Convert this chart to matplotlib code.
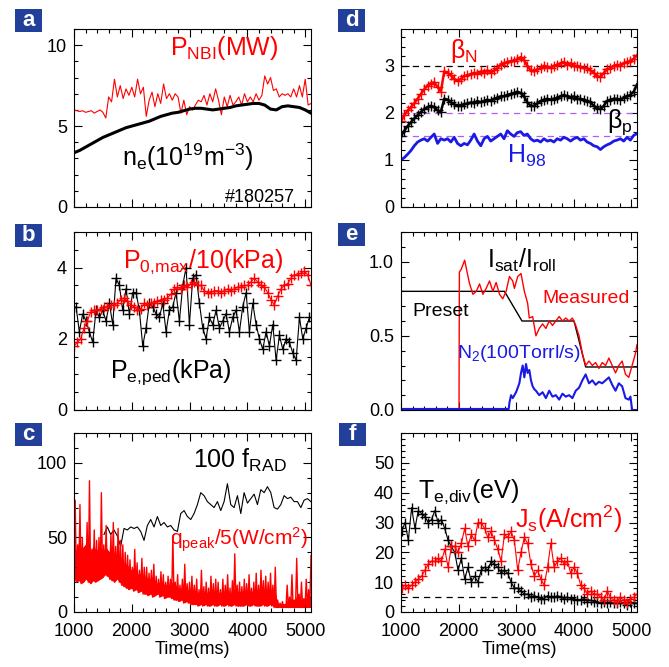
import numpy as np
import matplotlib
matplotlib.use('Agg')
import matplotlib.pyplot as plt
from matplotlib.patches import Rectangle
from matplotlib.ticker import MultipleLocator, FormatStrFormatter

plt.rcParams['font.family'] = ['Liberation Sans', 'DejaVu Sans']
plt.rcParams['mathtext.fontset'] = 'custom'
plt.rcParams['mathtext.rm'] = 'Liberation Sans'
plt.rcParams['mathtext.it'] = 'Liberation Sans'
plt.rcParams['mathtext.default'] = 'regular'

RED = '#ff0000'
BLUE = '#1a1ae6'
BOX = '#22409a'

# ---- panel a ----
ne = [3.35, 3.5, 3.7, 3.9, 4.1, 4.3, 4.45, 4.6, 4.75, 4.9, 5.0, 5.1, 5.2, 5.3,
      5.45, 5.6, 5.7, 5.8, 5.85, 5.95, 6.05, 6.1, 6.1, 6.05, 6.0, 6.05, 6.1,
      6.15, 6.25, 6.3, 6.35, 6.4, 6.4, 6.3, 6.05, 6.0, 6.2, 6.25, 6.2, 6.15,
      6.0, 5.8]
p_nbi = [6.0, 5.95, 5.9, 5.95, 5.85, 5.9, 5.95, 5.8, 5.9, 6.0, 5.85, 5.5, 6.8,
         6.5, 7.9, 6.8, 7.5, 6.7, 7.3, 6.9, 7.4, 6.8, 7.9, 7.0, 7.4, 5.6, 6.6,
         7.1, 6.2, 7.0, 6.4, 7.6, 6.7, 7.0, 6.6, 7.0, 6.8, 5.8, 6.6, 5.7, 6.2,
         6.0, 6.3, 6.6, 6.5, 6.9, 6.3, 7.0, 6.5, 7.3, 6.6, 5.7, 6.8, 6.2, 6.9,
         6.3, 6.5, 6.8, 6.3, 7.0, 6.5, 6.8, 6.5, 7.0, 6.6, 6.9, 8.1, 7.6, 8.0,
         7.2, 7.3, 6.8, 7.0, 6.9, 7.0, 6.8, 7.3, 6.8, 7.5, 6.8, 7.9, 6.3, 6.4]

# ---- panel b ----
p0max = [1.8, 1.9, 2.0, 2.3, 2.5, 2.75, 2.8, 2.8, 2.85, 2.9, 2.9, 2.95, 2.95,
         3.0, 3.1, 3.15, 3.05, 2.95, 2.9, 2.8, 2.85, 3.0, 2.95, 3.0, 3.0, 3.05,
         3.1, 3.1, 3.15, 3.25, 3.4, 3.45, 3.4, 3.5, 3.45, 3.55, 3.6, 3.5, 3.5,
         3.35, 3.3, 3.3, 3.35, 3.35, 3.3, 3.35, 3.4, 3.35, 3.4, 3.45, 3.45, 3.5,
         3.5, 3.6, 3.7, 3.6, 3.5, 3.45, 3.3, 3.1, 2.95, 3.2, 3.4, 3.5, 3.55,
         3.7, 3.8, 3.8, 3.85, 3.9, 3.8, 3.5]
pe_ped = [2.9, 2.2, 2.7, 2.5, 2.2, 1.9, 2.8, 2.6, 2.8, 2.5, 3.0, 2.4, 3.7, 3.5,
          2.8, 3.4, 2.7, 3.3, 3.3, 2.8, 1.8, 2.3, 3.0, 2.9, 2.7, 2.6, 3.0, 2.2,
          2.8, 2.9, 3.3, 2.5, 3.5, 4.0, 2.4, 3.7, 3.8, 3.0, 2.3, 2.0, 2.6, 2.4,
          2.8, 2.3, 2.5, 2.7, 2.2, 2.6, 2.8, 2.2, 2.9, 3.3, 2.2, 3.0, 2.4, 2.0,
          1.7, 2.2, 1.8, 2.4, 1.4, 2.1, 1.7, 2.0, 1.9, 1.6, 1.4, 2.6, 2.0, 2.3,
          2.6]

# ---- panel c ----
frad = [52, 57, 52, 55, 51, 44, 56, 55, 57, 56, 57, 54, 48, 58, 62, 57, 64, 58,
        60, 57, 58, 55, 54, 66, 68, 64, 62, 66, 72, 80, 78, 74, 72, 70, 74, 68,
        74, 86, 72, 70, 78, 66, 80, 73, 76, 79, 72, 82, 80, 84, 80, 70, 69, 72,
        78, 76, 77, 74, 74, 70, 75, 76, 74]
q_lo = [22, 20, 21, 19, 20, 22, 20, 19, 21, 20,
        21, 22, 23, 25, 24, 22, 21, 20, 22, 20,
        18, 17, 16, 15, 16, 14, 15, 13, 14, 12,
        12, 11, 12, 10, 11, 12, 10, 11, 9, 10,
        10, 9, 8, 8, 7, 8, 6, 7, 6, 5,
        5, 5, 4, 5, 4, 5, 4, 4, 5, 4,
        4, 5, 4, 4, 5, 4, 4, 5, 4, 4,
        4, 4, 5, 4, 4, 5, 4, 4, 4, 5,
        4, 4, 5, 4, 3, 3, 3, 3, 3, 3,
        3, 3, 3, 3, 3, 3, 3, 3, 3, 3]
q_core = [45, 40, 48, 42, 44, 46, 50, 40, 45, 42,
          42, 45, 40, 44, 42, 40, 45, 38, 40, 38,
          35, 33, 32, 30, 28, 30, 28, 25, 26, 24,
          24, 22, 23, 24, 20, 19, 21, 20, 18, 19,
          18, 20, 17, 18, 15, 16, 17, 15, 14, 15,
          13, 14, 12, 15, 13, 14, 12, 14, 13, 14,
          14, 12, 15, 13, 15, 12, 14, 16, 13, 14,
          13, 15, 14, 16, 13, 14, 16, 13, 15, 14,
          15, 13, 16, 12, 14, 6, 5, 6, 5, 8,
          7, 10, 6, 12, 8, 9, 7, 10, 8, 12]
q_hi = [75, 45, 72, 50, 40, 60, 88, 42, 55, 48,
        50, 80, 45, 58, 40, 52, 60, 44, 56, 48,
        45, 40, 38, 35, 30, 42, 33, 28, 36, 30,
        30, 26, 28, 32, 24, 22, 27, 25, 20, 24,
        22, 51, 20, 25, 18, 22, 32, 19, 20, 24,
        18, 22, 15, 28, 17, 20, 16, 24, 19, 22,
        20, 15, 22, 18, 25, 16, 21, 39, 18, 20,
        17, 22, 19, 25, 16, 20, 26, 18, 28, 21,
        24, 20, 26, 18, 30, 8, 6, 7, 5, 18,
        10, 25, 8, 36, 12, 20, 9, 22, 15, 38]

# ---- panel d ----
beta_n = [1.82, 1.95, 2.05, 2.12, 2.2, 2.3, 2.4, 2.5, 2.58, 2.62, 2.65, 2.55,
          2.45, 2.88, 2.85, 2.8, 2.72, 2.68, 2.72, 2.78, 2.8, 2.82, 2.85, 2.83,
          2.88, 2.85, 2.9, 2.85, 2.9, 2.95, 3.02, 3.05, 3.08, 3.1, 3.1, 3.14,
          3.18, 3.12, 3.0, 2.9, 2.88, 2.92, 2.95, 3.0, 2.98, 2.95, 3.0, 3.02,
          3.05, 3.08, 3.02, 3.05, 3.0, 3.0, 2.98, 2.95, 2.95, 2.9, 2.85, 2.78,
          2.76, 2.85, 2.92, 2.95, 3.0, 3.02, 3.0, 3.05, 3.08, 3.1, 3.15, 3.22]
beta_p = [1.5, 1.62, 1.72, 1.8, 1.88, 1.95, 2.02, 2.08, 2.12, 2.15, 2.12, 2.05,
          2.02, 2.3, 2.28, 2.22, 2.18, 2.15, 2.15, 2.18, 2.2, 2.22, 2.2, 2.25,
          2.22, 2.25, 2.28, 2.25, 2.3, 2.32, 2.35, 2.35, 2.38, 2.4, 2.42, 2.45,
          2.42, 2.35, 2.22, 2.15, 2.15, 2.2, 2.25, 2.28, 2.3, 2.28, 2.3, 2.32,
          2.35, 2.38, 2.35, 2.32, 2.35, 2.3, 2.3, 2.28, 2.25, 2.22, 2.15, 2.1,
          2.08, 2.15, 2.25, 2.28, 2.3, 2.3, 2.28, 2.32, 2.35, 2.38, 2.45, 2.6]
h98 = [1.0, 1.05, 1.12, 1.2, 1.3, 1.38, 1.42, 1.45, 1.4, 1.48, 1.55, 1.35, 1.45,
       1.42, 1.45, 1.38, 1.48, 1.35, 1.3, 1.35, 1.32, 1.42, 1.55, 1.4, 1.3,
       1.45, 1.5, 1.4, 1.45, 1.5, 1.55, 1.45, 1.62, 1.55, 1.5, 1.58, 1.6, 1.52,
       1.55, 1.45, 1.4, 1.42, 1.38, 1.45, 1.4, 1.42, 1.38, 1.45, 1.42, 1.48,
       1.45, 1.4, 1.45, 1.48, 1.42, 1.45, 1.38, 1.35, 1.3, 1.28, 1.22, 1.28,
       1.32, 1.35, 1.4, 1.42, 1.45, 1.4, 1.48, 1.42, 1.52, 1.56]

# ---- panel e ----
preset_t = [1000, 2797, 3102, 4006, 4208, 5100]
preset = [0.8, 0.8, 0.6, 0.6, 0.29, 0.29]
meas_t = [1000, 2008, 2014, 2048, 2106, 2164, 2192, 2250, 2308, 2365, 2423,
          2480, 2538, 2596, 2653, 2711, 2768, 2826, 2884, 2941, 2970, 3028,
          3085, 3143, 3200, 3229, 3287, 3344, 3402, 3460, 3517, 3575, 3632,
          3690, 3748, 3805, 3863, 3920, 3978, 4036, 4093, 4151, 4208, 4266,
          4324, 4381, 4439, 4496, 4554, 4612, 4669, 4727, 4784, 4842, 4900,
          4957, 5015, 5072, 5100]
meas = [0.0, 0.0, 0.93, 0.95, 1.01, 0.9, 0.85, 0.78, 0.8, 0.85, 0.78, 0.82,
        0.87, 0.8, 0.86, 0.78, 0.75, 0.8, 0.9, 0.87, 0.82, 0.9, 0.92, 0.8,
        0.72, 0.62, 0.63, 0.5, 0.55, 0.58, 0.55, 0.6, 0.57, 0.6, 0.63, 0.6,
        0.62, 0.6, 0.62, 0.57, 0.5, 0.38, 0.3, 0.33, 0.3, 0.32, 0.28, 0.32,
        0.3, 0.35, 0.3, 0.25, 0.3, 0.33, 0.24, 0.22, 0.3, 0.38, 0.44]
n2_t = [1000, 2872, 2884, 2912, 2941, 2970, 2999, 3028, 3056, 3085, 3114,
        3143, 3172, 3200, 3229, 3258, 3287, 3316, 3344, 3402, 3460, 3517,
        3575, 3632, 3690, 3748, 3805, 3863, 3920, 3978, 4036, 4093, 4151,
        4208, 4266, 4324, 4381, 4439, 4496, 4554, 4612, 4669, 4727, 4784,
        4842, 4900, 4957, 4986, 5015, 5100]
n2 = [0.007, 0.007, 0.05, 0.1, 0.08, 0.1, 0.12, 0.15, 0.18, 0.25, 0.3, 0.22,
      0.31, 0.25, 0.27, 0.2, 0.16, 0.14, 0.13, 0.1, 0.12, 0.08, 0.13, 0.09,
      0.1, 0.07, 0.11, 0.09, 0.1, 0.08, 0.13, 0.15, 0.2, 0.24, 0.18, 0.2,
      0.17, 0.19, 0.18, 0.2, 0.22, 0.17, 0.13, 0.18, 0.16, 0.08, 0.07, 0.09,
      0.0, 0.0]

# ---- panel f ----
te_div = [27, 30, 24, 35, 28, 34, 33, 32, 30, 31, 34, 30, 31, 28, 24, 22, 20,
          14, 18, 11, 15, 10, 12, 10, 14, 15, 14, 17, 16, 15, 13, 14, 13, 10,
          8, 8, 7, 6, 6, 5, 5.5, 5, 4.5, 4.5, 5.5, 5, 5, 5.5, 5, 4.5, 5, 4.5,
          4.5, 4, 4, 4.5, 3.5, 4, 3.5, 3.5, 3, 3.5, 3, 3.5, 3, 3, 3.5, 3, 2.5,
          3.5, 3, 3]
js = [8, 9, 8, 9, 10, 11, 12, 14, 16, 17, 17, 18, 17, 21, 15, 22, 22, 20, 23,
      28, 22, 26, 24, 30, 30, 28, 25, 27, 24, 21, 17, 26, 25, 27, 24, 14, 20,
      25, 23, 16, 12, 14, 11, 9, 15, 23, 15, 17, 18, 16, 17, 13, 15, 13, 9, 8,
      6, 7, 6, 6, 5, 4, 7, 5, 4, 3.5, 5, 4, 3, 4.5, 5, 6]


W, H = 669, 667
fig = plt.figure(figsize=(W / 100, H / 100), dpi=100)


def make_ax(x0, y0, x1, y1):
    return fig.add_axes([x0 / W, 1 - y1 / H, (x1 - x0) / W, (y1 - y0) / H])


def setup(ax, ylim, ystep, yminor, xlabels=False):
    ax.set_xlim(1000, 5100)
    ax.set_ylim(*ylim)
    ax.xaxis.set_major_locator(MultipleLocator(1000))
    ax.xaxis.set_minor_locator(MultipleLocator(200))
    ax.yaxis.set_major_locator(MultipleLocator(ystep))
    ax.yaxis.set_minor_locator(MultipleLocator(yminor))
    ax.tick_params(which='both', direction='in', top=True, right=True,
                   labelsize=13, width=0.8)
    ax.tick_params(which='major', length=6, pad=5)
    ax.tick_params(which='minor', length=3)
    ax.tick_params(axis='x', pad=8)
    if xlabels:
        ax.set_xlabel('Time(ms)', fontsize=13, labelpad=1)
    else:
        ax.set_xticklabels([])


def box_label(letter, x0, y0):
    fig.add_artist(Rectangle((x0 / W, 1 - (y0 + 23) / H), 27 / W, 23 / H,
                             transform=fig.transFigure, color=BOX, lw=0))
    fig.text((x0 + 13.5) / W, 1 - (y0 + 11.5) / H, letter, color='white',
             fontsize=16, fontweight='bold', ha='center', va='center')


def label(ax, x, y, s, color='black', size=18, ha='left'):
    ax.text(x, y, s, transform=ax.transAxes, color=color, fontsize=size,
            ha=ha, va='baseline')


# a
ax = make_ax(74, 29, 311, 207)
ax.plot(np.linspace(1000, 5100, len(p_nbi)), p_nbi, color=RED, lw=0.8)
ax.plot(np.linspace(1000, 5100, len(ne)), ne, color='black', lw=2.2)
setup(ax, (0, 11), 5, 1)
label(ax, 0.405, 0.854, r'$P_{NBI}$(MW)', RED)
label(ax, 0.203, 0.23, r'$n_e$(10$^{19}$m$^{-3}$)')
label(ax, 0.932, 0.028, '#180257', size=13, ha='right')

# b
ax = make_ax(74, 232, 311, 410)
ax.plot(np.linspace(1035, 5073, len(pe_ped)), pe_ped, color='black', lw=0.8,
        marker='+', ms=7, mew=1)
ax.plot(np.linspace(1000, 5100, len(p0max)), p0max, color=RED, lw=0.8,
        marker='+', ms=7, mew=1)
setup(ax, (0, 5), 2, 0.5)
label(ax, 0.207, 0.798, r'$P_{0{,}max}$/10(kPa)', RED)
label(ax, 0.152, 0.18, r'$P_{e{,}ped}$(kPa)')

# c
ax = make_ax(74, 433, 311, 612)
ax.plot(np.linspace(1519, 5097, len(frad)), frad, color='black', lw=0.8)
q_t = np.linspace(1000, 5100, len(q_lo))
ax.fill_between(q_t, q_lo, q_core, color=RED, lw=0)
q_t2 = np.linspace(1000, 5100, 2 * len(q_lo))
q_trace = np.column_stack([q_lo, q_hi]).ravel()
ax.plot(q_t2, q_trace, color=RED, lw=1)
setup(ax, (0, 120), 50, 10, xlabels=True)
label(ax, 0.502, 0.806, r'100 $f_{RAD}$')
label(ax, 0.405, 0.374, r'$q_{peak}$/5(W/cm$^2$)', RED, size=15)

# d
ax = make_ax(401, 29, 637, 207)
ax.axhline(3.0, color='black', lw=0.9, ls=(0, (5, 4)))
ax.axhline(2.0, color='#b060f0', lw=0.9, ls=(0, (5, 4)))
ax.axhline(1.5, color='#b060f0', lw=0.9, ls=(0, (5, 4)))
td = np.linspace(1000, 5100, len(beta_n))
ax.plot(td, beta_n, color=RED, lw=1.8, marker='+', ms=7, mew=1)
ax.plot(td, beta_p, color='black', lw=1.8, marker='+', ms=7, mew=1)
ax.plot(td, h98, color=BLUE, lw=2)
setup(ax, (0, 3.78), 1, 0.2)
label(ax, 0.208, 0.835, r'β$_N$', RED)
label(ax, 0.873, 0.444, r'β$_p$')
label(ax, 0.449, 0.247, r'$H_{98}$', BLUE)

# e
ax = make_ax(401, 232, 637, 410)
ax.plot(preset_t, preset, color='black', lw=1)
ax.plot(meas_t, meas, color=RED, lw=1)
ax.plot(n2_t, n2, color=BLUE, lw=1.5)
setup(ax, (0, 1.2), 0.5, 0.1)
ax.yaxis.set_major_formatter(FormatStrFormatter('%.1f'))
label(ax, 0.364, 0.798, r'$I_{sat}/I_{roll}$')
label(ax, 0.597, 0.60, 'Measured', RED, size=14)
label(ax, 0.047, 0.528, 'Preset', size=14)
label(ax, 0.237, 0.29, r'$N_2$(100Torrl/s)', BLUE, size=14)

# f
ax = make_ax(401, 433, 637, 612)
ax.axhline(5, color='black', lw=0.9, ls=(0, (5, 4)))
tf = np.linspace(1012, 5100, len(te_div))
ax.plot(tf, te_div, color='black', lw=0.8, marker='+', ms=7, mew=1)
ax.plot(tf, js, color=RED, lw=0.8, marker='+', ms=7, mew=1)
setup(ax, (0, 60), 10, 2, xlabels=True)
ax.set_yticks([0, 10, 20, 30, 40, 50])
label(ax, 0.072, 0.637, r'$T_{e{,}div}$(eV)')
label(ax, 0.483, 0.47, r'$J_s$(A/cm$^2$)', RED)

for letter, x0, y0 in [('a', 15, 9), ('b', 15, 224), ('c', 15, 423),
                       ('d', 338, 9), ('e', 338, 223), ('f', 339, 423)]:
    box_label(letter, x0, y0)

fig.savefig('out.png', dpi=100)
